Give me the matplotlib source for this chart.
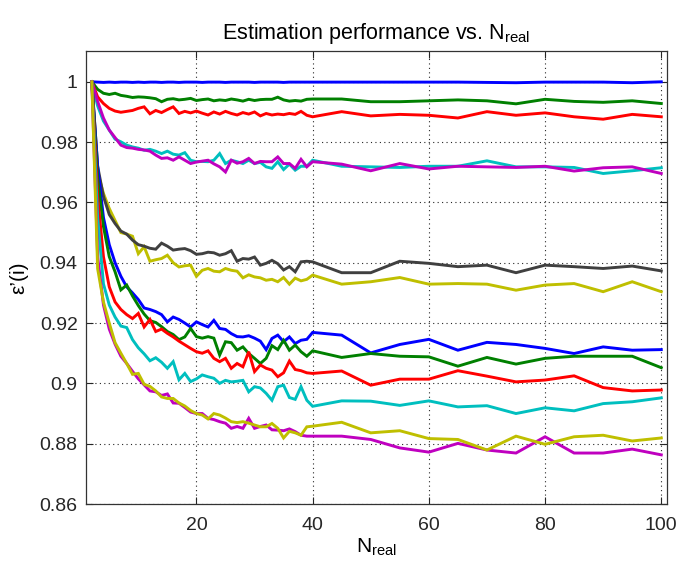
import matplotlib
matplotlib.use("Agg")
import matplotlib.pyplot as plt
from matplotlib.ticker import FormatStrFormatter

# N_real values: every run from 2 to 40, then every 5 up to 100
n_real = list(range(2, 41)) + list(range(45, 101, 5))

# upper group of curves
blue_hi = [1.0, 0.9999, 0.9998, 0.9999, 0.9998, 0.9999, 0.9999, 0.9998, 0.9999, 0.9998,
           0.9999, 0.9999, 0.9998, 0.9999, 0.9999, 0.9998, 0.9999, 0.9999, 0.9999, 0.9998,
           0.9999, 0.9999, 0.9999, 0.9998, 0.9999, 0.9999, 0.9999, 0.9999, 0.9998, 0.9999,
           0.9999, 0.9999, 0.9999, 0.9998, 0.9999, 0.9999, 0.9999, 0.9999, 0.9999,
           0.9999, 0.9999, 0.9999, 0.9999, 0.9999, 0.9998, 0.9997, 0.9999, 0.9999, 0.9999, 0.9997, 1.0]
green_hi = [1.0, 0.9975, 0.9962, 0.9958, 0.9962, 0.9955, 0.9952, 0.9948, 0.9950, 0.9949,
            0.9947, 0.9944, 0.9934, 0.9942, 0.9944, 0.9940, 0.9942, 0.9945, 0.9938, 0.9941,
            0.9943, 0.9937, 0.9940, 0.9938, 0.9943, 0.9940, 0.9936, 0.9942, 0.9938, 0.9941,
            0.9942, 0.9942, 0.9949, 0.9940, 0.9936, 0.9938, 0.9936, 0.9942, 0.9943,
            0.9943, 0.9934, 0.9934, 0.9937, 0.9940, 0.9937, 0.9927, 0.9942, 0.9935, 0.9932, 0.9937, 0.9928]
red_hi = [1.0, 0.9950, 0.9928, 0.9912, 0.9903, 0.9899, 0.9902, 0.9905, 0.9912, 0.9917,
          0.9894, 0.9905, 0.9898, 0.9908, 0.9917, 0.9895, 0.9902, 0.9897, 0.9903, 0.9896,
          0.9890, 0.9900, 0.9893, 0.9902, 0.9895, 0.9890, 0.9898, 0.9893, 0.9900, 0.9887,
          0.9895, 0.9890, 0.9893, 0.9891, 0.9895, 0.9892, 0.9902, 0.9889, 0.9884,
          0.9901, 0.9887, 0.9892, 0.9889, 0.9880, 0.9901, 0.9889, 0.9897, 0.9884, 0.9876, 0.9892, 0.9884]
cyan_hi = [1.0, 0.9920, 0.9870, 0.9840, 0.9810, 0.9801, 0.9790, 0.9784, 0.9780, 0.9773,
           0.9776, 0.9770, 0.9762, 0.9770, 0.9760, 0.9757, 0.9765, 0.9740, 0.9735, 0.9736,
           0.9735, 0.9740, 0.9762, 0.9729, 0.9740, 0.9735, 0.9729, 0.9740, 0.9729, 0.9733,
           0.9718, 0.9713, 0.9735, 0.9709, 0.9727, 0.9707, 0.9720, 0.9720, 0.9740,
           0.9720, 0.9718, 0.9716, 0.9720, 0.9720, 0.9738, 0.9718, 0.9718, 0.9716, 0.9696, 0.9705, 0.9715]
magenta_hi = [1.0, 0.9935, 0.9880, 0.9840, 0.9815, 0.9790, 0.9782, 0.9780, 0.9776, 0.9774,
              0.9770, 0.9757, 0.9746, 0.9748, 0.9740, 0.9751, 0.9740, 0.9729, 0.9734, 0.9737,
              0.9740, 0.9728, 0.9718, 0.9701, 0.9740, 0.9730, 0.9735, 0.9746, 0.9729, 0.9736,
              0.9735, 0.9735, 0.9751, 0.9729, 0.9729, 0.9713, 0.9743, 0.9718, 0.9735,
              0.9727, 0.9705, 0.9729, 0.9711, 0.9720, 0.9718, 0.9716, 0.9720, 0.9704, 0.9715, 0.9718, 0.9696]
olive_hi = [1.0, 0.9700, 0.9630, 0.9580, 0.9540, 0.9500, 0.9495, 0.9488, 0.9430, 0.9453,
            0.9405, 0.9410, 0.9414, 0.9425, 0.9400, 0.9386, 0.9390, 0.9392, 0.9355, 0.9375,
            0.9381, 0.9372, 0.9370, 0.9381, 0.9375, 0.9372, 0.9350, 0.9360, 0.9353, 0.9350,
            0.9342, 0.9345, 0.9337, 0.9351, 0.9329, 0.9349, 0.9340, 0.9345, 0.9359,
            0.9329, 0.9337, 0.9351, 0.9329, 0.9331, 0.9329, 0.9309, 0.9326, 0.9331, 0.9304, 0.9337, 0.9304]
gray_hi = [1.0, 0.9720, 0.9620, 0.9560, 0.9530, 0.9505, 0.9495, 0.9475, 0.9460, 0.9455,
           0.9448, 0.9445, 0.9465, 0.9455, 0.9442, 0.9445, 0.9447, 0.9440, 0.9428, 0.9430,
           0.9435, 0.9433, 0.9425, 0.9430, 0.9440, 0.9405, 0.9414, 0.9412, 0.9419, 0.9392,
           0.9398, 0.9408, 0.9397, 0.9376, 0.9387, 0.9370, 0.9403, 0.9405, 0.9403,
           0.9367, 0.9367, 0.9405, 0.9398, 0.9387, 0.9392, 0.9367, 0.9392, 0.9387, 0.9381, 0.9389, 0.9373]

# lower group of curves
blue_lo = [1.0, 0.9720, 0.9550, 0.9460, 0.9400, 0.9355, 0.9320, 0.9300, 0.9278, 0.9250,
           0.9245, 0.9238, 0.9228, 0.9204, 0.9220, 0.9212, 0.9200, 0.9187, 0.9204, 0.9195,
           0.9187, 0.9209, 0.9182, 0.9179, 0.9165, 0.9155, 0.9154, 0.9158, 0.9150, 0.9140,
           0.9112, 0.9149, 0.9160, 0.9138, 0.9154, 0.9132, 0.9143, 0.9146, 0.9169,
           0.9160, 0.9101, 0.9129, 0.9146, 0.9110, 0.9136, 0.9129, 0.9116, 0.9099, 0.9121, 0.9110, 0.9112]
green_lo = [1.0, 0.9680, 0.9520, 0.9420, 0.9370, 0.9310, 0.9326, 0.9290, 0.9258, 0.9230,
            0.9208, 0.9202, 0.9188, 0.9172, 0.9162, 0.9145, 0.9154, 0.9182, 0.9155, 0.9150,
            0.9155, 0.9150, 0.9094, 0.9138, 0.9135, 0.9110, 0.9121, 0.9099, 0.9083, 0.9066,
            0.9083, 0.9125, 0.9112, 0.9143, 0.9110, 0.9127, 0.9105, 0.9090, 0.9108,
            0.9086, 0.9099, 0.9090, 0.9088, 0.9057, 0.9086, 0.9064, 0.9083, 0.9090, 0.9090, 0.9090, 0.9052]
red_lo = [1.0, 0.9620, 0.9420, 0.9320, 0.9270, 0.9245, 0.9228, 0.9215, 0.9232, 0.9187,
          0.9212, 0.9172, 0.9180, 0.9166, 0.9154, 0.9140, 0.9128, 0.9116, 0.9105, 0.9100,
          0.9108, 0.9083, 0.9072, 0.9083, 0.9050, 0.9066, 0.9055, 0.9105, 0.9039, 0.9061,
          0.9050, 0.9044, 0.9022, 0.9035, 0.9074, 0.9046, 0.9042, 0.9035, 0.9033,
          0.9041, 0.8994, 0.9014, 0.9014, 0.9042, 0.9024, 0.9005, 0.9011, 0.9025, 0.8986, 0.8975, 0.8978]
cyan_lo = [1.0, 0.9550, 0.9330, 0.9260, 0.9220, 0.9190, 0.9185, 0.9145, 0.9118, 0.9098,
           0.9075, 0.9085, 0.9070, 0.9050, 0.9072, 0.9012, 0.9033, 0.9006, 0.9015, 0.9028,
           0.9022, 0.9017, 0.9000, 0.9010, 0.9005, 0.9007, 0.9010, 0.8972, 0.8989, 0.8985,
           0.8967, 0.8944, 0.8989, 0.8994, 0.8953, 0.8947, 0.8989, 0.8944, 0.8924,
           0.8942, 0.8941, 0.8927, 0.8942, 0.8922, 0.8926, 0.8900, 0.8919, 0.8909, 0.8933, 0.8939, 0.8952]
magenta_lo = [1.0, 0.9420, 0.9260, 0.9180, 0.9130, 0.9090, 0.9066, 0.9040, 0.9015, 0.8995,
              0.8975, 0.8972, 0.8960, 0.8965, 0.8935, 0.8934, 0.8920, 0.8905, 0.8900, 0.8900,
              0.8884, 0.8880, 0.8873, 0.8868, 0.8851, 0.8857, 0.8851, 0.8884, 0.8851, 0.8857,
              0.8862, 0.8846, 0.8845, 0.8843, 0.8849, 0.8840, 0.8828, 0.8825, 0.8825,
              0.8825, 0.8814, 0.8786, 0.8772, 0.8801, 0.8779, 0.8769, 0.8823, 0.8769, 0.8769, 0.8782, 0.8763]
olive_lo = [1.0, 0.9380, 0.9270, 0.9200, 0.9135, 0.9100, 0.9066, 0.9030, 0.9033, 0.8997,
            0.8990, 0.8975, 0.8955, 0.8950, 0.8950, 0.8935, 0.8925, 0.8910, 0.8900, 0.8895,
            0.8882, 0.8900, 0.8895, 0.8885, 0.8873, 0.8870, 0.8873, 0.8868, 0.8862, 0.8856,
            0.8856, 0.8867, 0.8851, 0.8819, 0.8841, 0.8836, 0.8828, 0.8856, 0.8858,
            0.8871, 0.8836, 0.8843, 0.8817, 0.8814, 0.8779, 0.8825, 0.8798, 0.8823, 0.8828, 0.8809, 0.8819]

y_ticks = [0.86, 0.88, 0.90, 0.92, 0.94, 0.96, 0.98, 1.00]
x_ticks = [20, 40, 60, 80, 100]

# MATLAB default line colours
C_B = (0, 0, 1)
C_G = (0, 0.5, 0)
C_R = (1, 0, 0)
C_C = (0, 0.75, 0.75)
C_M = (0.75, 0, 0.75)
C_Y = (0.75, 0.75, 0)
C_K = (0.25, 0.25, 0.25)


def main():
    plt.rcParams['font.family'] = ['Liberation Sans', 'DejaVu Sans']
    plt.rcParams['mathtext.fontset'] = 'custom'
    plt.rcParams['mathtext.rm'] = 'Liberation Sans'
    plt.rcParams['mathtext.it'] = 'Liberation Sans:italic'

    fig = plt.figure(figsize=(6.8, 5.61), dpi=100)
    ax = fig.add_axes([0.1265, 0.1016, 0.8545, 0.8074])

    series = [(blue_hi, C_B), (green_hi, C_G), (red_hi, C_R), (cyan_hi, C_C),
              (magenta_hi, C_M), (olive_hi, C_Y), (gray_hi, C_K),
              (blue_lo, C_B), (green_lo, C_G), (red_lo, C_R), (cyan_lo, C_C),
              (magenta_lo, C_M), (olive_lo, C_Y)]
    for vals, col in series:
        ax.plot(n_real, vals, color=col, lw=2.1, solid_joinstyle='miter')

    ax.set_xlim(1, 101)
    ax.set_ylim(0.86, 1.0102)
    ax.set_xticks(x_ticks)
    ax.set_yticks(y_ticks)
    ax.yaxis.set_major_formatter(FormatStrFormatter('%g'))
    ax.grid(True, linestyle=(0, (1, 3)), color='0.15', lw=0.8)
    ax.tick_params(direction='in', top=True, right=True, length=5,
                   width=0.8, labelsize=14, pad=6, colors='0.15')
    ax.tick_params(axis='x', pad=9)
    for sp in ax.spines.values():
        sp.set_color('0.2')
        sp.set_linewidth(0.9)

    ax.set_title('Estimation performance vs. N$_{\\mathrm{real}}$', fontsize=15.5, pad=9)
    ax.set_xlabel('N$_{\\mathrm{real}}$', fontsize=15, labelpad=2)
    ax.set_ylabel('\u03b5\u2019(i)', fontsize=15, labelpad=8)

    plt.savefig('out.png', dpi=100)


if __name__ == '__main__':
    main()
